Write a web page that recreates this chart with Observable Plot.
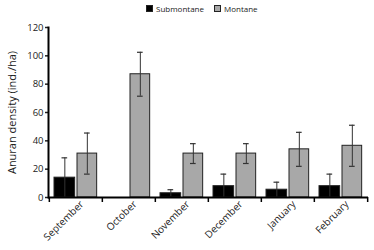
<!DOCTYPE html>
<html>
<head>
<meta charset="utf-8">
<script src="https://cdn.jsdelivr.net/npm/d3@7"></script>
<script src="https://cdn.jsdelivr.net/npm/@observablehq/plot@0.6"></script>
<style>
  body { margin: 0; background: #fff; font-family: "Open Sans", sans-serif; }
  #legend { height: 18px; position: relative; font-size: 8px; color: #222; }
  .item { position: absolute; top: 3px; display: flex; align-items: center; }
  .sw { width: 5px; height: 5px; border: 1px solid #222; margin-right: 3px; }
  svg { display: block; }
</style>
</head>
<body>
<div id="legend"></div>
<div id="chart"></div>
<script>
const months = ["September", "October", "November", "December", "January", "February"];
const seriesNames = ["Submontane", "Montane"];
const submontane = [14, null, 3, 8, 5.5, 8];
const submontaneErr = [14, null, 2.5, 8.5, 5.3, 8.5];
const montane = [31, 87, 31, 31, 34, 36.5];
const montaneErr = [14.5, 15.5, 7, 7, 12, 14.5];
const yTicks = [0, 20, 40, 60, 80, 100, 120];

const colors = {Submontane: "#000000", Montane: "#a8a8a8"};

const legend = document.getElementById("legend");
[[seriesNames[0], 146], [seriesNames[1], 214]].forEach(([name, left]) => {
  const it = document.createElement("div");
  it.className = "item";
  it.style.left = left + "px";
  it.innerHTML = `<span class="sw" style="background:${colors[name]}"></span><span>${name}</span>`;
  legend.appendChild(it);
});

const sub = months.map((m, i) => ({month: m, value: submontane[i], err: submontaneErr[i]})).filter(d => d.value != null);
const mon = months.map((m, i) => ({month: m, value: montane[i], err: montaneErr[i]}));

const width = 374, marginLeft = 48, marginRight = 6;
const bw = (width - marginLeft - marginRight) / months.length;

const subIL = 5, subW = 21, monIL = 28, monW = 20, capW = 6;
const subC = subIL + subW / 2, monC = monIL + monW / 2;

const chart = Plot.plot({
  width,
  height: 232,
  marginLeft,
  marginRight,
  marginTop: 9,
  marginBottom: 53,
  style: {fontFamily: "Open Sans, sans-serif", color: "#222"},
  x: {domain: months, padding: 0},
  y: {domain: [0, 120], ticks: yTicks},
  marks: [
    Plot.barY(sub, {x: "month", y: "value", fill: colors.Submontane, stroke: "#222", strokeWidth: 1,
      insetLeft: subIL, insetRight: bw - subIL - subW}),
    Plot.barY(mon, {x: "month", y: "value", fill: colors.Montane, stroke: "#222", strokeWidth: 1,
      insetLeft: monIL, insetRight: bw - monIL - monW}),
    // error bars
    Plot.ruleX(sub, {x: "month", y1: d => Math.max(0, d.value - d.err), y2: d => d.value + d.err,
      dx: subC - bw / 2, stroke: "#333", strokeWidth: 1}),
    Plot.tickY(sub, {x: "month", y: d => d.value + d.err, stroke: "#333", strokeWidth: 1.2,
      insetLeft: subC - capW / 2, insetRight: bw - subC - capW / 2}),
    Plot.ruleX(mon, {x: "month", y1: d => d.value - d.err, y2: d => d.value + d.err,
      dx: monC - bw / 2, stroke: "#333", strokeWidth: 1}),
    Plot.tickY(mon, {x: "month", y: d => d.value + d.err, stroke: "#333", strokeWidth: 1.2,
      insetLeft: monC - capW / 2, insetRight: bw - monC - capW / 2}),
    Plot.tickY(mon, {x: "month", y: d => d.value - d.err, stroke: "#333", strokeWidth: 1.2,
      insetLeft: monC - capW / 2, insetRight: bw - monC - capW / 2}),
    // axes
    Plot.axisY({ticks: yTicks, tickSize: 3, tickPadding: 2, fontSize: 9.5, strokeWidth: 1.5, label: null}),
    Plot.axisY({ticks: [], tickSize: 0, fontSize: 11,
      label: "Anuran density (ind./ha)", labelAnchor: "center", labelArrow: "none", labelOffset: 40}),
    Plot.axisX({tickSize: 0, tickRotate: -45, fontSize: 10, tickPadding: 5, dx: 6, label: null}),
    Plot.ruleY([0], {stroke: "#000", strokeWidth: 2}),
    Plot.frame({anchor: "left", stroke: "#000", strokeWidth: 2}),
    Plot.ruleX(months, {x: d => d, dx: -bw / 2, y1: 0, y2: 0, insetBottom: -5, stroke: "#000", strokeWidth: 1.5}),
    Plot.ruleX([months[months.length - 1]], {x: d => d, dx: bw / 2, y1: 0, y2: 0, insetBottom: -5, stroke: "#000", strokeWidth: 1.5})
  ]
});
document.getElementById("chart").appendChild(chart);
</script>
</body>
</html>
